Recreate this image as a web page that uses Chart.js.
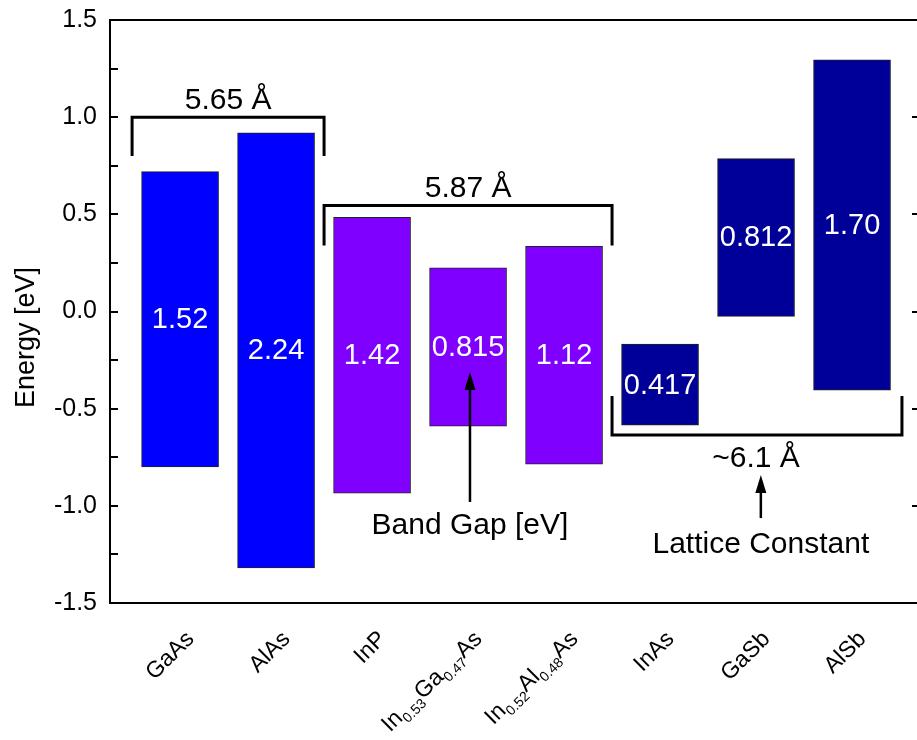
<!DOCTYPE html>
<html>
<head>
<meta charset="utf-8">
<script src="https://cdn.jsdelivr.net/npm/chart.js@4.4.0/dist/chart.umd.min.js"></script>
<style>
    html, body { margin: 0; padding: 0; background: #fff; overflow: hidden; }
    #contenedor { width: 917px; height: 740px; overflow: hidden; }
</style>
</head>
<body>
<div id="contenedor"><canvas id="graficoBandas" width="932" height="740"></canvas></div>
<script>
// Datos del gráfico
const materiales = ['GaAs', 'AlAs', 'InP', 'In_{0.53}Ga_{0.47}As', 'In_{0.52}Al_{0.48}As', 'InAs', 'GaSb', 'AlSb'];
const bandaValencia = [-0.80, -1.32, -0.935, -0.59, -0.785, -0.585, -0.025, -0.405];
const bandGap = [1.52, 2.24, 1.42, 0.815, 1.12, 0.417, 0.812, 1.70];
const etiquetasGap = ['1.52', '2.24', '1.42', '0.815', '1.12', '0.417', '0.812', '1.70'];
const grupoRed = [0, 0, 1, 1, 1, 2, 2, 2];

// Anotaciones (en unidades de datos)
const corchetesX = [[-0.5, 1.5], [1.5, 4.5], [4.5, 7.52]];
const corchetesY = [[1.0, 0.8], [0.545, 0.34], [-0.636, -0.435]];
const textosRed = ['5.65 Å', '5.87 Å', '~6.1 Å'];
const textosRedPos = [[0.5, 1.042], [3.0, 0.589], [6.0, -0.80]];
const flechas = [[3.02, -0.98, -0.311], [6.05, -1.063, -0.841]];
const textosFlecha = ['Band Gap [eV]', 'Lattice Constant'];
const textosFlechaPos = [[3.02, -1.146], [6.05, -1.241]];

const coloresGrupo = ['#0000ff', '#8000ff', '#000099'];
const FUENTE = '"Liberation Sans", Arial, sans-serif';

function partesEtiqueta(txt) {
    const out = [];
    const re = /_\{([^}]*)\}/g;
    let ultimo = 0, m;
    while ((m = re.exec(txt))) {
        if (m.index > ultimo) out.push({ t: txt.slice(ultimo, m.index), sub: false });
        out.push({ t: m[1], sub: true });
        ultimo = re.lastIndex;
    }
    if (ultimo < txt.length) out.push({ t: txt.slice(ultimo), sub: false });
    return out;
}

function dibujarFlecha(ctx, x, y1, y2) {
    // de y1 (cola) hacia y2 (punta), vertical
    const largo = 18, ancho = 5.5;
    ctx.beginPath();
    ctx.moveTo(x, y1);
    ctx.lineTo(x, y2 + largo - 2);
    ctx.stroke();
    ctx.beginPath();
    ctx.moveTo(x, y2);
    ctx.lineTo(x - ancho, y2 + largo);
    ctx.lineTo(x + ancho, y2 + largo);
    ctx.closePath();
    ctx.fill();
}

const pluginDecoracion = {
    id: 'decoracion',
    afterDraw(chart) {
        const ctx = chart.ctx;
        const area = chart.chartArea;
        const xs = chart.scales.x;
        const ys = chart.scales.y;
        ctx.save();

        // Marco
        ctx.strokeStyle = '#000';
        ctx.lineWidth = 2;
        ctx.strokeRect(area.left, area.top, area.right - area.left, area.bottom - area.top);

        // Título eje Y
        ctx.save();
        ctx.translate(27, (area.top + area.bottom) / 2 + 26);
        ctx.rotate(-Math.PI / 2);
        ctx.font = '27px ' + FUENTE;
        ctx.fillStyle = '#000';
        ctx.textAlign = 'center';
        ctx.textBaseline = 'middle';
        ctx.fillText('Energy [eV]', 0, 0);
        ctx.restore();

        // Etiquetas de categoría rotadas con subíndices
        materiales.forEach((nombre, i) => {
            const partes = partesEtiqueta(nombre);
            let total = 0;
            partes.forEach(p => {
                ctx.font = (p.sub ? '14px ' : '23px ') + FUENTE;
                p.w = ctx.measureText(p.t).width;
                total += p.w;
            });
            ctx.save();
            ctx.translate(xs.getPixelForValue(i) + 15, area.bottom + 37);
            ctx.rotate(-Math.PI / 4);
            ctx.fillStyle = '#000';
            ctx.textAlign = 'left';
            ctx.textBaseline = 'alphabetic';
            let x = -total;
            partes.forEach(p => {
                ctx.font = (p.sub ? '14px ' : '23px ') + FUENTE;
                ctx.fillText(p.t, x, p.sub ? 6 : 0);
                x += p.w;
            });
            ctx.restore();
        });

        // Valores de band gap en el centro de cada barra
        const meta = chart.getDatasetMeta(0);
        ctx.font = '29px ' + FUENTE;
        ctx.fillStyle = '#fff';
        ctx.textAlign = 'center';
        ctx.textBaseline = 'middle';
        meta.data.forEach((barra, i) => {
            const props = barra.getProps(['x', 'y', 'base'], true);
            ctx.fillText(etiquetasGap[i], props.x, (props.y + props.base) / 2 + 1);
        });

        // Corchetes de constante de red
        ctx.strokeStyle = '#000';
        ctx.fillStyle = '#000';
        ctx.lineWidth = 3;
        corchetesX.forEach((cx, i) => {
            const x1 = xs.getPixelForValue(cx[0]);
            const x2 = xs.getPixelForValue(cx[1]);
            const yLinea = ys.getPixelForValue(corchetesY[i][0]);
            const yPata = ys.getPixelForValue(corchetesY[i][1]);
            ctx.beginPath();
            ctx.moveTo(x1, yPata);
            ctx.lineTo(x1, yLinea);
            ctx.lineTo(x2, yLinea);
            ctx.lineTo(x2, yPata);
            ctx.stroke();
        });
        ctx.font = '30px ' + FUENTE;
        ctx.textAlign = 'center';
        ctx.textBaseline = 'alphabetic';
        textosRed.forEach((t, i) => {
            ctx.fillText(t, xs.getPixelForValue(textosRedPos[i][0]), ys.getPixelForValue(textosRedPos[i][1]));
        });

        // Flechas y sus textos
        ctx.lineWidth = 2.5;
        flechas.forEach(f => {
            dibujarFlecha(ctx, xs.getPixelForValue(f[0]), ys.getPixelForValue(f[1]), ys.getPixelForValue(f[2]));
        });
        textosFlecha.forEach((t, i) => {
            ctx.fillText(t, xs.getPixelForValue(textosFlechaPos[i][0]), ys.getPixelForValue(textosFlechaPos[i][1]));
        });

        ctx.restore();
    }
};

const datosBarras = materiales.map((m, i) => ({
    x: i,
    y: [bandaValencia[i], bandaValencia[i] + bandGap[i]]
}));

new Chart(document.getElementById('graficoBandas'), {
    type: 'bar',
    data: {
        datasets: [{
            data: datosBarras,
            backgroundColor: grupoRed.map(g => coloresGrupo[g]),
            borderColor: '#222',
            borderWidth: 1,
            borderSkipped: false,
            barThickness: 77
        }]
    },
    options: {
        responsive: false,
        animation: false,
        events: [],
        layout: { padding: { top: 20, left: 0, right: 0, bottom: 0 } },
        plugins: {
            legend: { display: false },
            title: { display: false },
            tooltip: { enabled: false }
        },
        scales: {
            x: {
                type: 'linear',
                offset: false,
                min: -0.73,
                max: 7.708,
                ticks: { display: false },
                grid: { display: false, offset: false },
                border: { display: false },
                afterFit: s => { s.height = 137; s.paddingLeft = 0; s.paddingRight = 0; }
            },
            y: {
                position: 'left',
                min: -1.5,
                max: 1.5,
                ticks: {
                    stepSize: 0.25,
                    color: '#000',
                    padding: 21,
                    font: { family: FUENTE, size: 25 },
                    callback: v => (Math.abs(v * 2 - Math.round(v * 2)) < 1e-6 ? v.toFixed(1) : '')
                },
                grid: { drawOnChartArea: false, tickLength: -8, color: '#000', lineWidth: 2 },
                border: { display: false },
                afterFit: s => { s.width = 110; s.paddingTop = 0; s.paddingBottom = 0; }
            },
            y2: {
                position: 'right',
                min: -1.5,
                max: 1.5,
                ticks: { stepSize: 0.5, display: false },
                grid: { drawOnChartArea: false, tickLength: -8, color: '#000', lineWidth: 2 },
                border: { display: false },
                afterFit: s => { s.width = 12; s.paddingTop = 0; s.paddingBottom = 0; }
            }
        }
    },
    plugins: [pluginDecoracion]
});
</script>
</body>
</html>
